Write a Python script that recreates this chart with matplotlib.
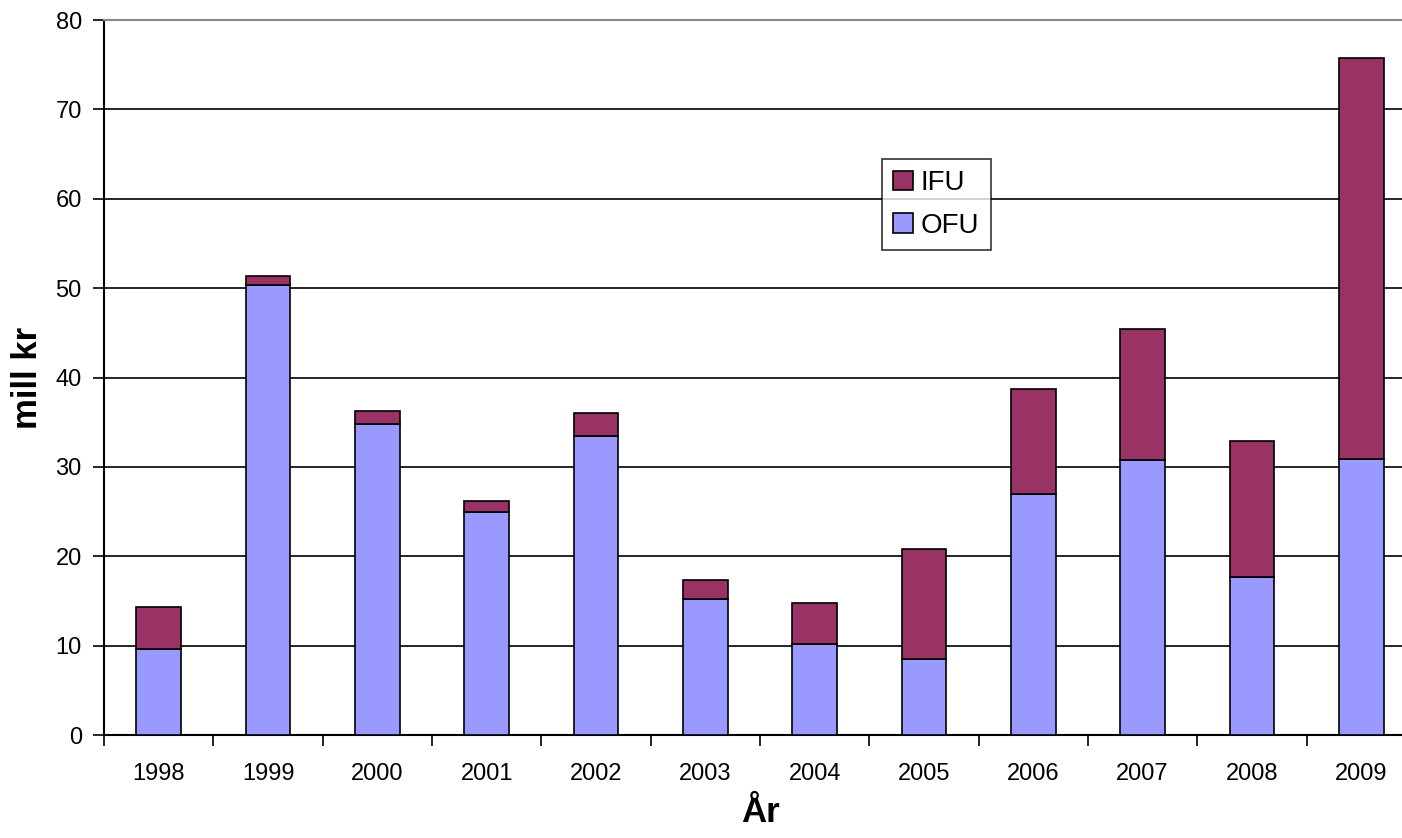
import matplotlib
matplotlib.use("Agg")
import matplotlib.pyplot as plt
import numpy as np

years = ["1998", "1999", "2000", "2001", "2002", "2003", "2004", "2005", "2006", "2007", "2008", "2009"]
ofu = [9.6, 50.4, 34.8, 25.0, 33.5, 15.2, 10.2, 8.5, 27.0, 30.8, 17.7, 30.9]
total = [14.3, 51.4, 36.2, 26.2, 36.0, 17.3, 14.8, 20.8, 38.7, 45.4, 32.9, 75.8]
ifu = [t - o for t, o in zip(total, ofu)]

plt.rcParams['font.family'] = ['Liberation Sans', 'DejaVu Sans']

W, H = 1402, 838
fig = plt.figure(figsize=(W / 100, H / 100), dpi=100)
left, right, top, bottom = 104, 1416, 20, 735
ax = fig.add_axes([left / W, 1 - bottom / H, (right - left) / W, (bottom - top) / H])

x = np.arange(len(years))
bw = 0.41
b1 = ax.bar(x, ofu, bw, color="#9999FF", edgecolor="black", linewidth=1.2, label="OFU", zorder=3)
b2 = ax.bar(x, ifu, bw, bottom=ofu, color="#993366", edgecolor="black", linewidth=1.2, label="IFU", zorder=3)

ax.set_xlim(-0.5, len(years) - 0.5)
ax.set_ylim(0, 80)
ax.set_yticks(np.arange(0, 81, 10))
ax.set_xticks(x)
ax.set_xticklabels(years, fontsize=17)
ax.set_xticks(np.arange(-0.5, len(years), 1), minor=True)
ax.tick_params(axis='x', which='major', length=0, pad=20)
ax.tick_params(axis='x', which='minor', length=8, width=1.2, direction='out', color='black')
ax.tick_params(axis='y', which='major', length=8, width=1.2, direction='out', labelsize=17, pad=8)

for yv in range(10, 80, 10):
    ax.axhline(yv, color='black', linewidth=1.2, zorder=1)

ax.spines['right'].set_visible(False)
ax.spines['top'].set_color('#888888')
ax.spines['top'].set_linewidth(1.5)
ax.spines['left'].set_linewidth(1.5)
ax.spines['bottom'].set_linewidth(1.5)

ax.set_ylabel("mill kr", fontsize=25, fontweight='bold', labelpad=8)
ax.set_xlabel("År", fontsize=25, fontweight='bold', labelpad=8)

leg = fig.legend([b2, b1], ["IFU", "OFU"], loc='upper left',
                 bbox_to_anchor=(882 / W, 1 - 159 / H), bbox_transform=fig.transFigure,
                 fontsize=20, frameon=True, fancybox=False, edgecolor='black',
                 handlelength=0.7, handleheight=0.7, handletextpad=0.3,
                 borderpad=0.4, labelspacing=0.6, borderaxespad=0)
leg.get_frame().set_linewidth(1.2)

fig.savefig("out.png", dpi=100)
